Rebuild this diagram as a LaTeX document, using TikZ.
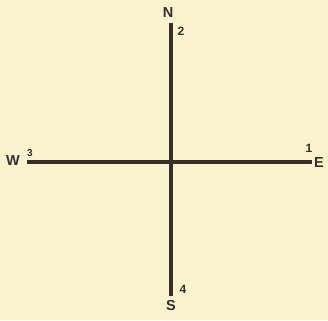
\documentclass[tikz,border=0pt]{standalone}
\usepackage{fontspec}
\setmainfont{Liberation Sans}
\definecolor{paper}{RGB}{250,244,206}
\definecolor{ink}{RGB}{55,45,45}
\begin{document}
\begin{tikzpicture}[x=1pt,y=-1pt,
  axis/.style={draw=ink,line width=3.4pt},
  dirlabel/.style={text=ink,font=\bfseries\fontsize{14.5}{14.5}\selectfont,inner sep=0pt},
  numlabel/.style={text=ink,font=\bfseries\fontsize{12}{12}\selectfont,inner sep=0pt}]
\fill[paper] (0,0) rectangle (328,320);
\useasboundingbox (0,0) rectangle (328,320);
\coordinate (top) at (171,23);
\coordinate (bot) at (171,296);
\coordinate (left) at (27,162);
\coordinate (right) at (312,162);
\draw[axis] (top) -- (bot);
\draw[axis] (left) -- (right);
\node[dirlabel] (N) at (168,13) {N};
\node[dirlabel] (S) at (171,306) {S};
\node[dirlabel] (W) at (13,161) {W};
\node[dirlabel] (E) at (319,163) {E};
\node[numlabel] (n2) at (181,31) {2};
\node[numlabel] (n4) at (183,289) {4};
\node[numlabel,font=\bfseries\fontsize{10}{10}\selectfont] (n3) at (30,153) {3};
\node[numlabel] (n1) at (309,148) {1};
\end{tikzpicture}
\end{document}
